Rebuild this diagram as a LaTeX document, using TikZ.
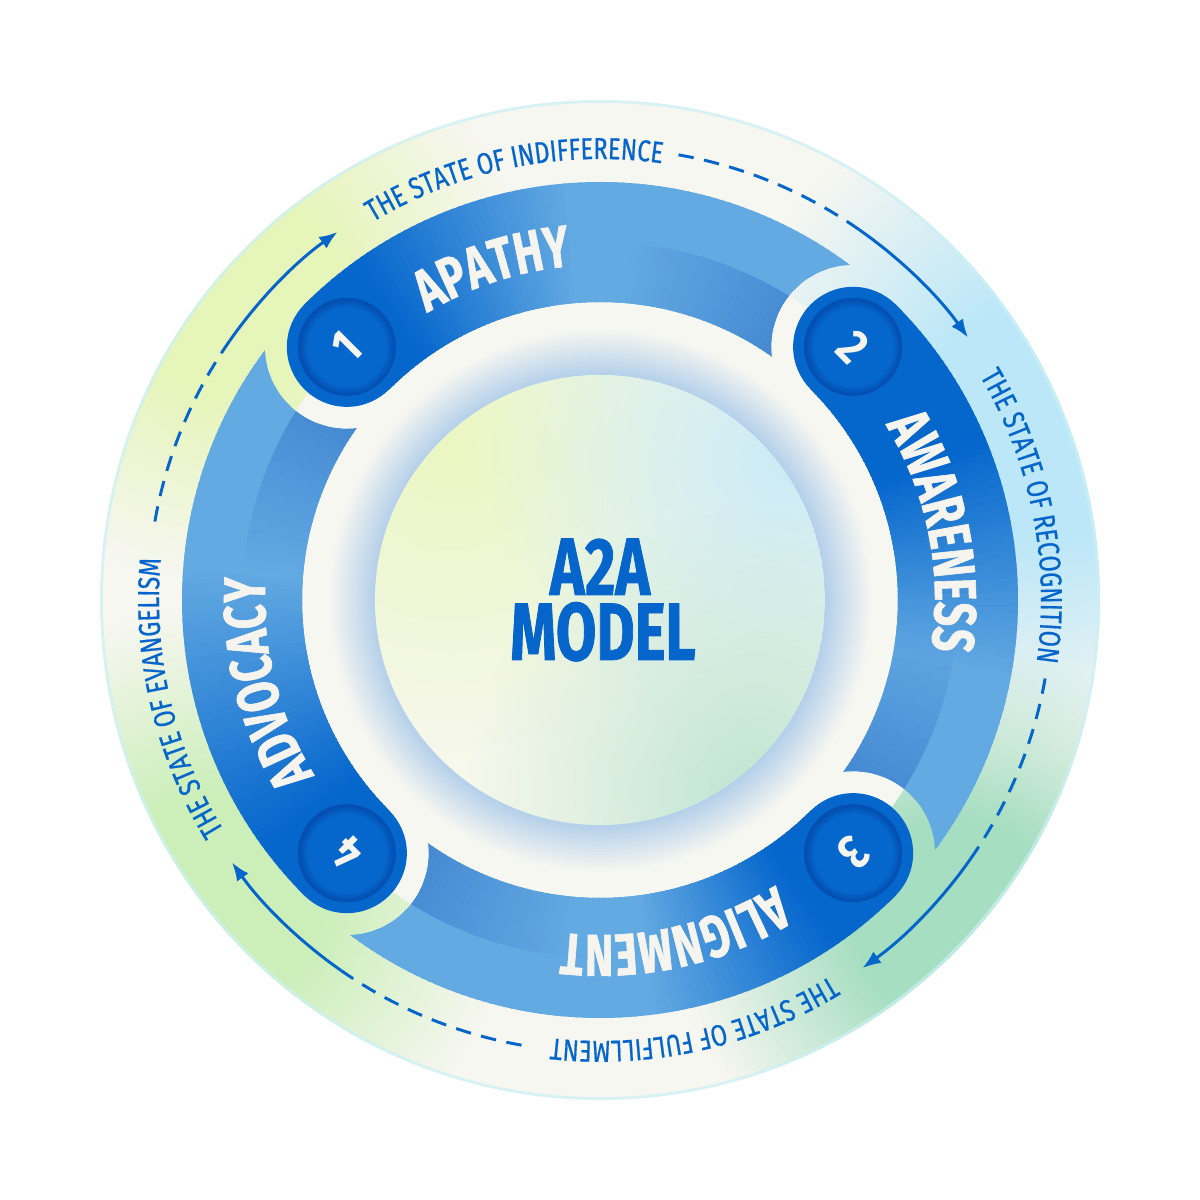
\documentclass[tikz,border=0pt]{standalone}
\usepackage{fontspec}
\usetikzlibrary{decorations.text,fadings,arrows.meta}
\newfontfamily\outerfont[FakeStretch=0.78,FakeBold=0.6]{Fira Sans}
\newfontfamily\labfont[FakeStretch=0.72,FakeBold=1]{Fira Sans}
\newfontfamily\titlefont[FakeStretch=0.72,FakeBold=1]{Fira Sans}
\newfontfamily\numfont[FakeStretch=0.85]{Fira Sans}
\definecolor{dkb}{HTML}{0566CC}
\definecolor{ltb}{HTML}{63A9E2}
\definecolor{shb}{HTML}{3A7DCC}
\definecolor{cream}{HTML}{F7F7F1}
\definecolor{txtb}{HTML}{0565CB}
\definecolor{labc}{HTML}{F6F4EE}
\definecolor{glowc}{HTML}{B3CFEA}
\definecolor{tyg}{HTML}{E6F5BA}
\definecolor{tcy}{HTML}{BCE7F8}
\definecolor{tmint}{HTML}{A6DEC1}
\definecolor{tlg}{HTML}{CCEFBA}
\definecolor{rimc}{HTML}{CBF1F6}
\definecolor{nrim}{HTML}{0350B2}
\definecolor{diskbase}{HTML}{F6F8EC}
\definecolor{dyg}{HTML}{EAF7C2}
\definecolor{dcy}{HTML}{CBEBF6}
\definecolor{dmint}{HTML}{C0E5D2}
\pgfdeclareradialshading{numsh}{\pgfpointorigin}{color(0bp)=(dkb); color(20bp)=(dkb); color(24bp)=(nrim); color(25bp)=(nrim); color(50bp)=(nrim)}
\pgfdeclareradialshading{glowsh}{\pgfpointorigin}{color(0bp)=(glowc); color(20.6bp)=(glowc); color(25bp)=(cream); color(50bp)=(cream)}
\pgfdeclareradialshading{blobsh}{\pgfpointorigin}{color(0bp)=(pgftransparent!0); color(9bp)=(pgftransparent!0); color(25bp)=(pgftransparent!100); color(50bp)=(pgftransparent!100)}
\pgfdeclarefading{blobfade}{\pgfuseshading{blobsh}}
\pgfdeclareradialshading{softsh}{\pgfpointorigin}{color(0bp)=(pgftransparent!0); color(25bp)=(pgftransparent!100); color(50bp)=(pgftransparent!100)}
\pgfdeclarefading{softfade}{\pgfuseshading{softsh}}
\newcommand\drawband[3]{%
  \begin{scope}
    \clip (560,0) arc[start angle=0,end angle=360,radius=560]
          ({#1-90}:358) ++(82,0) arc[start angle=0,end angle=-360,radius=82];
    \foreach \i in {0,...,89}{
      \pgfmathsetmacro\angA{#1-\i}
      \pgfmathsetmacro\angB{#1-\i-1.4}
      \pgfmathsetmacro\tval{(\i+0.5)/90}
      \pgfmathtruncatemacro\pdk{max(0,min(100,100*(#3-\tval)/(#3-#2)))}
      \pgfmathtruncatemacro\qsh{max(0,min(100,100*(\tval-0.55)/0.45))}
      \colorlet{mainc}{dkb!\pdk!ltb}
      \fill[mainc] (\angA:298) arc[start angle=\angA,end angle=\angB,radius=298]
        -- (\angB:418) arc[start angle=\angB,end angle=\angA,radius=418] -- cycle;
      \fill[shb!\qsh!mainc] (\angA:298) arc[start angle=\angA,end angle=\angB,radius=298]
        -- (\angB:358) arc[start angle=\angB,end angle=\angA,radius=358] -- cycle;
    }
  \end{scope}}
\tikzset{
  labtext/.style={decorate, decoration={text along path,
     text={|\labfont\bfseries\fontsize{42}{42}\selectfont\color{labc}|#1}}},
  outtext/.style={decorate, decoration={text along path,
     text={|\outerfont\fontsize{21.5}{21.5}\selectfont\color{txtb}|#1}}},
  arrline/.style={txtb, line width=2.1pt},
  dashline/.style={arrline, dash pattern=on 11pt off 7.5pt},
  numstyle/.style={font=\numfont\bfseries\fontsize{35}{35}\selectfont, text=labc, inner sep=0pt},
  titlestyle/.style={font=\titlefont\bfseries\fontsize{58}{58}\selectfont, text=txtb, inner sep=0pt, anchor=base}
}
\begin{document}
\begin{tikzpicture}[x=0.025cm,y=0.025cm]
\useasboundingbox (-600,-600) rectangle (600,600);
\fill[white] (-600,-600) rectangle (600,600);
% outer disc
\fill[cream] (0,0) circle (500);
\begin{scope}
  \clip (500,0) arc[start angle=0,end angle=360,radius=500]
        (358,0) arc[start angle=0,end angle=-360,radius=358];
  \fill[tyg, path fading=blobfade] (140:480) circle (290);
  \fill[tcy, path fading=blobfade] (22:480) circle (330);
  \fill[tmint, path fading=blobfade] (-42:480) circle (280);
  \fill[tlg, path fading=blobfade] (-142:480) circle (290);
\end{scope}
\draw[rimc, line width=2pt, opacity=0.7] (0,0) circle (498.5);
% glow and centre disc
\shade[shading=glowsh] (0,0) circle (272);
\begin{scope}
  \clip (0,0) circle (225);
  \fill[diskbase] (0,0) circle (225);
  \fill[dyg, path fading=softfade] (-150,150) circle (300);
  \fill[dcy, path fading=softfade] (190,140) circle (300);
  \fill[dmint, path fading=softfade] (150,-190) circle (280);
\end{scope}
% bands
\drawband{135}{0.10}{0.45}
\drawband{45}{0.25}{0.62}
\drawband{-45}{0.12}{0.42}
\drawband{-135}{0.10}{0.55}
% caps and number discs
\foreach \c in {135,45,-45,-135}{
  \fill[dkb] (\c:358) circle (60);
  \shade[shading=numsh] (\c:358) circle (49);
}
\node[numstyle, rotate=45] (n1) at (135:358) {1};
\node[numstyle, rotate=-45] (n2) at (45:358) {2};
\node[numstyle, rotate=-135] (n3) at (-45:358) {3};
\node[numstyle, rotate=135] (n4) at (-135:358) {4};
% band labels
\path[labtext=APATHY] (121:335) arc[start angle=121,end angle=40,radius=335];
\path[labtext=AWARENESS] (31.5:335) arc[start angle=31.5,end angle=-50,radius=335];
\path[labtext=ALIGNMENT] (-58.5:335) arc[start angle=-58.5,end angle=-140,radius=335];
\path[labtext=ADVOCACY] (-148.5:335) arc[start angle=-148.5,end angle=-230,radius=335];
% outer labels
\path[outtext=THE STATE OF INDIFFERENCE] (121:441) arc[start angle=121,end angle=60,radius=441];
\path[outtext=THE STATE OF RECOGNITION] (30.5:441) arc[start angle=30.5,end angle=-30,radius=441];
\path[outtext=THE STATE OF FULFILLMENT] (-58.5:441) arc[start angle=-58.5,end angle=-120,radius=441];
\path[outtext=THE STATE OF EVANGELISM] (-148.5:441) arc[start angle=-148.5,end angle=-210,radius=441];
% outer arrows
\foreach \c [count=\k] in {45,-45,-135,135}{
  \coordinate (d\k) at ({\c+35}:452);
  \coordinate (s\k) at ({\c+10}:452);
  \draw[dashline] (d\k) arc[start angle={\c+35}, end angle={\c+10}, radius=452];
  \draw[arrline, -{Latex[length=13pt,width=10pt]}] (s\k) arc[start angle={\c+10}, end angle={\c-9.5}, radius=452];
}
% title
\node[titlestyle] (t1) at (0,5) {A2A};
\node[titlestyle] (t2) at (3,-60) {MODEL};
\end{tikzpicture}
\end{document}
